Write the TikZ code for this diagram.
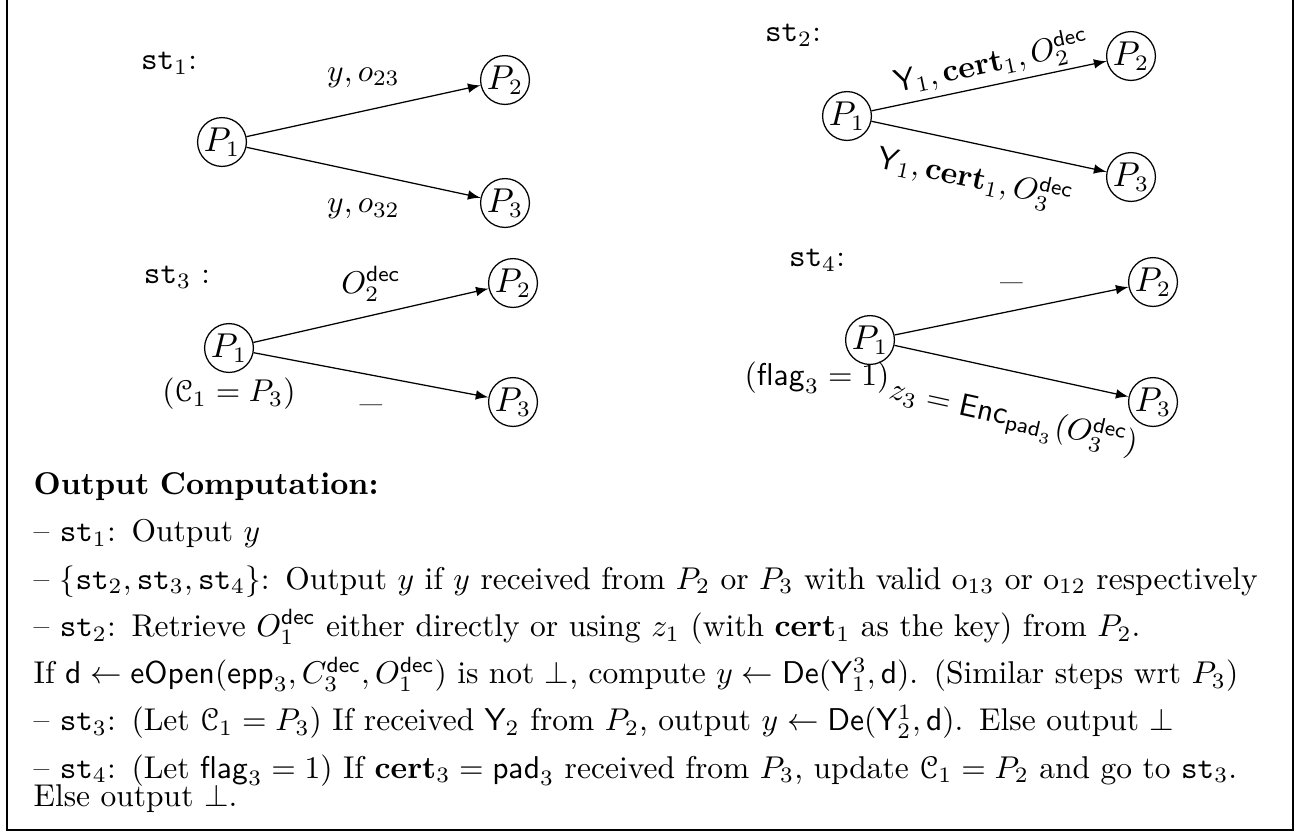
\documentclass[tikz,border=0pt]{standalone}
\usepackage{amsmath}
\usepackage{eucal}
\usetikzlibrary{positioning}

\begin{document}
\begin{tikzpicture}[x=0.3175pt,y=-0.3175pt,
  party/.style={draw,circle,inner sep=0.3pt,font=\fontsize{10.5}{12.6}\selectfont},
  msg/.style={-latex},
  lbl/.style={font=\fontsize{9.6}{11.5}\selectfont},
  stlbl/.style={font=\fontsize{9.8}{11.8}\selectfont}
]
\useasboundingbox (0,0) rectangle (1309,832);
\draw[line width=0.6pt] (7,0) -- (7,830) -- (1293,830) -- (1293,0);

\node[stlbl] (st1) at (169,63) {$\mathtt{st}_1$:};
\node[party] (a1) at (222,142) {$P_1$};
\node[party] (a2) at (505,80) {$P_2$};
\node[party] (a3) at (505,203) {$P_3$};
\draw[msg] (a1) -- node[lbl,above=4pt] {$y, o_{23}$} (a2);
\draw[msg] (a1) -- node[lbl,below=5pt] {$y, o_{32}$} (a3);

\node[stlbl] (st2) at (793,35) {$\mathtt{st}_2$:};
\node[party] (b1) at (847,116) {$P_1$};
\node[party] (b2) at (1131,56) {$P_2$};
\node[party] (b3) at (1131,177) {$P_3$};
\draw[msg] (b1) -- node[lbl,sloped,above=-2pt,pos=0.53] {$\mathsf{Y}_1, \mathbf{cert}_1, O^{\mathsf{dec}}_2$} (b2);
\draw[msg] (b1) -- node[lbl,sloped,below=2pt,pos=0.47] {$\mathsf{Y}_1, \mathbf{cert}_1, O^{\mathsf{dec}}_3$} (b3);

\node[stlbl] (st3) at (177,277) {$\mathtt{st}_3$ :};
\node[party] (c1) at (229,348) {$P_1$};
\node[party] (c2) at (513,283) {$P_2$};
\node[party] (c3) at (513,402) {$P_3$};
\node[lbl,below=-2pt of c1] (c1note) {$(\mathcal{C}_1 = P_3)$};
\draw[msg] (c1) -- node[lbl,above=1pt] {$O^{\mathsf{dec}}_2$} (c2);
\draw[msg] (c1) -- node[lbl,below=5pt] {\_} (c3);

\node[stlbl] (st4) at (817,260) {$\mathtt{st}_4$:};
\node[party] (d1) at (870,340) {$P_1$};
\node[party] (d2) at (1153,282) {$P_2$};
\node[party] (d3) at (1153,402) {$P_3$};
\node[lbl] (d1note) at (817,378) {$(\mathsf{flag}_3 = 1)$};
\draw[msg] (d1) -- node[lbl,above=5pt] {\_} (d2);
\draw[msg] (d1) -- node[lbl,sloped,below=5pt,pos=0.55] {$z_3 = \mathsf{Enc}_{\mathsf{pad}_3}(O^{\mathsf{dec}}_3)$} (d3);

\node[anchor=north west,text width=1265*0.3175pt,align=left,inner sep=0pt] (outtxt) at (33,472) {
  \textbf{Output Computation:}\\[3pt]
  -- $\mathtt{st}_1$: Output $y$\\[3pt]
  -- $\{\mathtt{st}_2, \mathtt{st}_3, \mathtt{st}_4\}$: Output $y$ if $y$ received from $P_2$ or $P_3$ with valid $\mathrm{o}_{13}$ or $\mathrm{o}_{12}$ respectively\\[3pt]
  -- $\mathtt{st}_2$: Retrieve $O^{\mathsf{dec}}_1$ either directly or using $z_1$ (with $\mathbf{cert}_1$ as the key) from $P_2$.\\[3pt]
  If $\mathsf{d} \leftarrow \mathsf{eOpen}(\mathsf{epp}_3, C^{\mathsf{dec}}_3, O^{\mathsf{dec}}_1)$ is not $\bot$, compute $y \leftarrow \mathsf{De}(\mathsf{Y}^3_1, \mathsf{d})$. (Similar steps wrt $P_3$)\\[3pt]
  -- $\mathtt{st}_3$: (Let $\mathcal{C}_1 = P_3$) If received $\mathsf{Y}_2$ from $P_2$, output $y \leftarrow \mathsf{De}(\mathsf{Y}^1_2, \mathsf{d})$. Else output $\bot$\\[3pt]
  -- $\mathtt{st}_4$: (Let $\mathsf{flag}_3 = 1$) If $\mathbf{cert}_3 = \mathsf{pad}_3$ received from $P_3$, update $\mathcal{C}_1 = P_2$ and go to $\mathtt{st}_3$.\\[-3pt]
  Else output $\bot$.
};
\end{tikzpicture}
\end{document}
